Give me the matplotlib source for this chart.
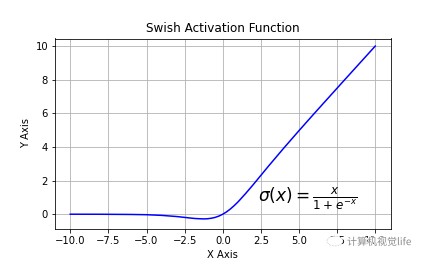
import matplotlib
matplotlib.use('Agg')
from matplotlib import pyplot as plt
from matplotlib import patheffects
from matplotlib.patches import Circle

x_values = [-10, -8, -6, -5, -4, -3, -2.5, -2, -1.75, -1.5, -1.25, -1, -0.75, -0.5, -0.25,
            0, 0.25, 0.5, 0.75, 1, 1.5, 2, 2.5, 3, 4, 5, 6, 8, 10]
y_values = [0, -0.003, -0.015, -0.03, -0.07, -0.14, -0.19, -0.24, -0.26, -0.27, -0.28, -0.27, -0.24, -0.19, -0.11,
            0, 0.14, 0.31, 0.51, 0.73, 1.23, 1.76, 2.31, 2.86, 3.93, 4.97, 5.99, 8, 10]

W, H = 425, 261
fig = plt.figure(figsize=(W / 72, H / 72), dpi=72)
ax = fig.add_axes([55 / W, 1 - 228.5 / H, (390.5 - 55) / W, (228.5 - 38.5) / H])

ax.plot(x_values, y_values, color='b')
ax.set_xlim(-11, 11)
ax.set_ylim(-0.85, 10.45)
ax.set_title('Swish Activation Function')
ax.set_xlabel('X Axis')
ax.set_ylabel('Y Axis')
ax.grid(True)
ax.text(2.3, 0.68, r'$\sigma(x) = \frac{x}{1 + e^{-x}}$', fontsize=17)

# watermark in the bottom right corner
fig.add_artist(Circle((335 / W, 1 - 241 / H), 8 / W, transform=fig.transFigure, fc='white', ec='#9a9a9a',
                      lw=0.6, ls=':'))
mark = fig.text(347 / W, 1 - 242 / H, '计算机视觉life', color='#8c8c8c', fontsize=10, va='center',
                family=['Noto Sans CJK SC', 'DejaVu Sans'])
mark.set_path_effects([patheffects.withStroke(linewidth=1.5, foreground='white')])

fig.savefig('out.png', dpi=72)
